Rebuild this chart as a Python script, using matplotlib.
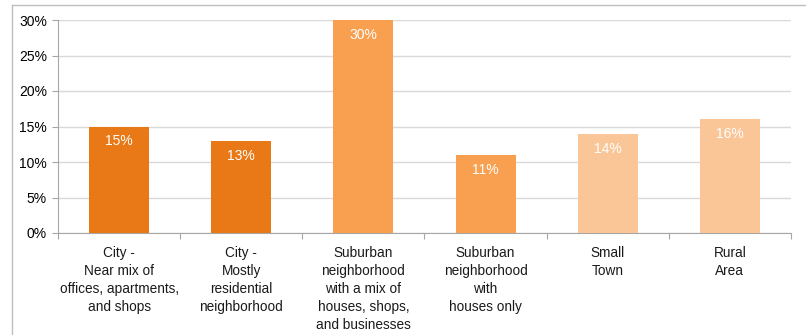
import matplotlib.pyplot as plt
from matplotlib.lines import Line2D

plt.rcParams['font.family'] = ['Liberation Sans', 'DejaVu Sans']

categories = ["City -\nNear mix of\noffices, apartments,\nand shops",
              "City -\nMostly\nresidential\nneighborhood",
              "Suburban\nneighborhood\nwith a mix of\nhouses, shops,\nand businesses",
              "Suburban\nneighborhood\nwith\nhouses only",
              "Small\nTown",
              "Rural\nArea"]
values = [15, 13, 30, 11, 14, 16]
colors = ["#E97817", "#E97817", "#F9A050", "#F9A050", "#FAC698", "#FAC698"]

fig = plt.figure(figsize=(8.06, 3.35), dpi=100)
ax = fig.add_axes([58/806, 1-233/335, (791-58)/806, (233-20)/335])

x = range(len(values))
ax.bar(x, values, width=0.49, color=colors, zorder=3)

for i, v in enumerate(values):
    ax.text(i, v - 2.1, f"{v}%", ha='center', va='center', color='white', fontsize=10, zorder=4)

ax.set_xlim(-0.5, len(values) - 0.5)
ax.set_ylim(0, 30)
ax.set_yticks(range(0, 31, 5))
ax.set_yticklabels([f"{t}%" for t in range(0, 31, 5)], fontsize=10)
ax.yaxis.grid(True, color='#D9D9D9', linewidth=1, zorder=0)

# ticks at the category boundaries, labels drawn as text
ax.set_xticks([i - 0.5 for i in range(len(values) + 1)])
ax.set_xticklabels([])
for i, lab in enumerate(categories):
    ax.annotate(lab, xy=(i, 0), xycoords=('data', 'axes fraction'),
                xytext=(0, -9.5), textcoords='offset points',
                ha='center', va='top', fontsize=9.8,
                linespacing=1.36, color='#1a1a1a')
ax.tick_params(axis='x', which='major', length=4, color='#A6A6A6')
ax.tick_params(axis='y', length=4, color='#A6A6A6', pad=4)

for s in ['top', 'right']:
    ax.spines[s].set_visible(False)
ax.spines['left'].set_color('#A6A6A6')
ax.spines['bottom'].set_color('#A6A6A6')

# outer chart border (top and left only visible)
fig.add_artist(Line2D([12/806, 1], [1-5/335, 1-5/335], color='#BFBFBF', lw=1))
fig.add_artist(Line2D([12/806, 12/806], [0, 1-5/335], color='#BFBFBF', lw=1))

fig.savefig("out.png", dpi=100)
